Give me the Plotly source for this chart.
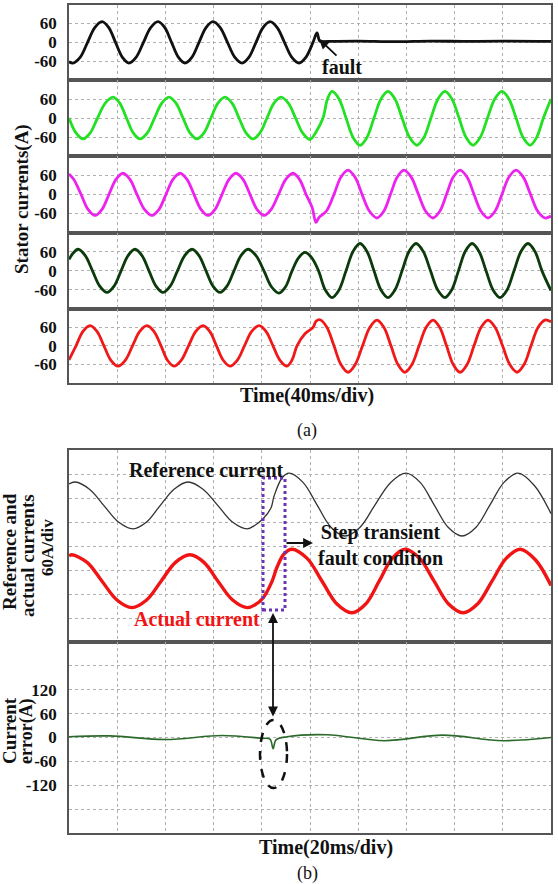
import plotly.graph_objects as go

W, H = 558, 884

# ---------------- (a) Stator currents: (time ms @40 ms/div, current A)
phase_A = [(0, -62), (3.3, -66), (9.4, -47), (15.4, 0), (21.4, 47), (27.4, 66), (33.0, 47), (38.6, 0),
           (44.2, -47), (49.8, -66), (55.8, -47), (61.8, 0), (67.8, 47), (73.9, 66), (79.5, 47), (85.1, 0),
           (90.7, -47), (96.3, -66), (102.1, -47), (107.9, 0), (113.7, 47), (119.5, 66), (125.5, 47),
           (131.5, 0), (137.5, -47), (143.6, -66), (149.4, -47), (155.2, 0), (161.0, 47), (166.8, 66),
           (172.8, 47), (178.8, 0), (184.8, -47), (190.9, -66), (196.7, -47), (202.5, 0), (205.8, 30),
           (208.3, 3), (215, 3), (240, 4), (270, 2), (300, 4), (330, 3), (360, 4), (400, 3)]

phase_B = [(0, 0), (5.8, -47), (11.6, -66), (17.6, -47), (23.7, 0), (30.1, 47), (36.5, 66), (42.1, 47),
           (47.7, 0), (53.3, -47), (58.9, -66), (65.0, -47), (71.0, 0), (77.0, 47), (83.0, 66), (88.8, 47),
           (94.6, 0), (100.4, -47), (106.2, -66), (112.0, -47), (117.8, 0), (123.6, 47), (129.5, 66),
           (135.3, 47), (141.1, 0), (146.9, -47), (152.7, -66), (158.5, -47), (164.3, 0), (170.1, 47),
           (175.9, 66), (182.0, 47), (188.0, 0), (194.0, -48), (200.0, -68), (205.0, -44), (210.8, 0),
           (214.5, 60), (218.3, 84), (224.1, 60), (229.9, 0), (235.7, -61), (241.5, -86), (247.3, -61),
           (253.1, 0), (258.9, 60), (264.7, 84), (270.5, 60), (276.4, 0), (282.6, -61), (288.8, -86),
           (294.6, -61), (300.4, 0), (306.2, 60), (312.0, 84), (317.8, 60), (323.7, 0), (329.5, -61),
           (335.3, -86), (341.3, -61), (347.3, 0), (353.3, 60), (359.3, 84), (365.1, 60), (371.0, 0),
           (376.8, -61), (382.6, -86), (388.1, -61), (393.7, 0), (400, 60)]

phase_C = [(0, 64), (3.9, 47), (10.0, 0), (15.8, -47), (21.6, -66), (27.4, -47), (33.2, 0), (39.0, 47),
           (44.8, 66), (50.6, 47), (56.4, 0), (62.6, -47), (68.9, -66), (74.7, -47), (80.5, 0), (86.3, 47),
           (92.1, 66), (97.9, 47), (103.7, 0), (109.5, -47), (115.4, -66), (121.2, -47), (127.0, 0),
           (132.8, 47), (138.6, 66), (144.4, 47), (150.2, 0), (156.0, -47), (161.8, -66), (167.8, -47),
           (173.9, 0), (179.9, 47), (185.9, 66), (191.3, 47), (196.7, 0), (201.7, -40), (205.0, -88),
           (207.5, -72), (213.7, -52), (219.9, 0), (225.7, 54), (231.5, 76), (237.3, 54), (243.2, 0),
           (249.4, -53), (255.6, -74), (261.2, -53), (266.8, 0), (272.4, 54), (278.0, 76), (284.0, 54),
           (290.0, 0), (296.0, -53), (302.1, -74), (307.7, -53), (313.3, 0), (318.9, 54), (324.5, 76),
           (330.3, 54), (336.1, 0), (341.9, -53), (347.7, -74), (353.5, -53), (359.3, 0), (365.1, 54),
           (371.0, 76), (377.0, 54), (383.0, 0), (389.0, -53), (395.0, -74), (400, -68)]

phase_D = [(0, 36), (3.5, 56), (7.5, 68), (13.5, 48), (19.5, 0), (25.5, -48), (31.5, -68), (37.4, -48),
           (43.2, 0), (49.0, 48), (54.8, 68), (60.6, 48), (66.4, 0), (72.2, -48), (78.0, -68), (84.0, -48),
           (90.0, 0), (96.0, 48), (102.1, 68), (107.9, 48), (113.7, 0), (119.5, -48), (125.3, -68),
           (131.1, -48), (136.9, 0), (142.7, 48), (148.6, 68), (155.2, 48), (161.8, 0), (168.0, -50),
           (174.3, -70), (179.7, -50), (185.1, 0), (190.5, 41), (195.9, 58), (201.5, 41), (207.1, 0),
           (212.7, -60), (218.3, -84), (224.1, -60), (229.9, 0), (235.7, 61), (241.5, 86), (247.3, 61),
           (253.1, 0), (258.9, -60), (264.7, -84), (270.5, -60), (276.4, 0), (282.2, 61), (288.0, 86),
           (294.0, 61), (300.0, 0), (306.0, -60), (312.0, -84), (317.6, -60), (323.2, 0), (328.8, 61),
           (334.5, 86), (340.3, 61), (346.1, 0), (351.9, -60), (357.7, -84), (363.5, -60), (369.3, 0),
           (375.1, 61), (380.9, 86), (386.7, 61), (392.5, 0), (400, -62)]

phase_E = [(0, -46), (5.8, 0), (11.6, 47), (17.4, 66), (23.2, 47), (29.0, 0), (34.8, -47), (40.7, -66),
           (46.7, -47), (52.7, 0), (58.7, 47), (64.7, 66), (70.5, 47), (76.4, 0), (81.7, -47), (87.1, -66),
           (93.1, -47), (99.2, 0), (105.2, 47), (111.2, 66), (116.8, 47), (122.4, 0), (128.0, -47),
           (133.6, -66), (139.6, -47), (145.6, 0), (151.6, 47), (157.7, 66), (163.5, 47), (169.3, 0),
           (175.1, -47), (180.9, -66), (185.0, -47), (189.2, 0), (196.0, 40), (202.5, 60), (205.0, 80),
           (208.3, 85), (214.1, 60), (219.9, 0), (225.7, -61), (231.5, -86), (237.5, -61), (243.6, 0),
           (249.6, 60), (255.6, 84), (261.4, 60), (267.2, 0), (273.0, -61), (278.8, -86), (284.6, -61),
           (290.5, 0), (296.3, 60), (302.1, 84), (307.7, 60), (313.3, 0), (318.9, -61), (324.5, -86),
           (330.3, -61), (336.1, 0), (341.9, 60), (347.7, 84), (353.7, 60), (359.8, 0), (365.8, -61),
           (371.8, -86), (377.6, -61), (383.4, 0), (389.2, 60), (395.0, 84), (400, 78)]

a_ticks = [-60, 0, 60]
a_ticktext = ["-60", "0", "60"]

# ---------------- (b) (time ms @20 ms/div, displayed level in A @60 A/div)
reference_current = [(0, 155), (2.5, 160), (8.5, 142), (14.5, 101), (20.5, 60), (26.6, 43), (32.2, 60),
                     (37.8, 101), (43.6, 142), (49.4, 160), (55.6, 142), (61.8, 101), (67.8, 60), (73.9, 43),
                     (77.2, 52), (80.5, 68), (83.8, 95), (85.1, 125), (88.4, 170), (91.3, 182), (97.1, 159),
                     (102.9, 103), (108.7, 47), (114.5, 25), (120.8, 47), (127.0, 103), (133.5, 159),
                     (139.9, 182), (145.7, 159), (151.5, 103), (157.3, 47), (163.1, 25), (168.9, 47),
                     (174.7, 103), (180.5, 159), (186.3, 182), (193.0, 152), (200, 81)]

actual_current = [(0, -25), (1.2, -22), (7.5, -41), (13.7, -88), (19.9, -135), (26.1, -154), (32.2, -135),
                  (38.2, -88), (44.2, -41), (50.2, -22), (56.0, -41), (61.8, -88), (67.9, -135), (73.9, -154),
                  (77.2, -147), (80.5, -130), (84.2, -89), (86.3, -53), (89.2, -20), (92.5, -8), (98.8, -31),
                  (105.0, -88), (111.2, -145), (117.4, -167), (123.1, -145), (128.7, -88), (134.1, -31),
                  (139.4, -8), (145.5, -31), (151.5, -88), (157.5, -145), (163.5, -167), (169.5, -145),
                  (175.5, -88), (181.4, -31), (187.2, -8), (193.6, -35), (200, -99)]

current_error = [(0, 2), (17, 4), (40, -5), (63.5, 5), (80, -2), (83.4, -4), (84.7, -28), (85.9, -6),
                 (90.5, 2), (107, 7), (131, -8), (155, 6), (180, -8), (200, 0)]

b_grid = [-180, -120, -60, 0, 60, 120, 180]
b_ticktext = ["", "-120", "-60", "0", "60", "120", ""]

# ---------------- helpers (layout positions in pixels -> paper)
def px(x):
    return x / W

def py(y):
    return 1 - y / H

def cols(pairs):
    return [p[0] for p in pairs], [p[1] for p in pairs]

FONT = "Liberation Serif"
GRID = "#b0b0b0"
BORDER = "#555555"

fig = go.Figure()

a_bounds = [4.7, 80, 156, 232.7, 309, 382.7]
a_series = [(phase_A, "#111111"), (phase_B, "#22e022"), (phase_C, "#ee22ee"),
            (phase_D, "#0b3a0b"), (phase_E, "#f01818")]

xdom = [px(69), px(551)]

for k, (data, c) in enumerate(a_series):
    t, v = cols(data)
    yname = "y" if k == 0 else f"y{k+1}"
    fig.add_trace(go.Scatter(x=t, y=v, mode="lines", xaxis="x", yaxis=yname,
                             line=dict(color=c, width=2.8, shape="spline", smoothing=1.0),
                             showlegend=False, hoverinfo="skip"))
    key = "yaxis" if k == 0 else f"yaxis{k+1}"
    fig.update_layout(**{key: dict(
        domain=[py(a_bounds[k+1]), py(a_bounds[k])], range=[-120, 120], anchor="x",
        tickvals=a_ticks, ticktext=a_ticktext, ticks="", ticklabelstandoff=7,
        tickfont=dict(family=FONT, size=17, color="#111", weight="bold"),
        showgrid=True, gridcolor=GRID, griddash="dot", gridwidth=1, zeroline=False,
        showline=True, mirror=True, linecolor=BORDER, linewidth=1.6, fixedrange=True)})

fig.update_layout(xaxis=dict(domain=xdom, range=[0, 400], anchor="y5",
                             tickvals=[40 * i for i in range(1, 10)], showticklabels=False, ticks="",
                             showgrid=True, gridcolor=GRID, griddash="dot", gridwidth=1, zeroline=False,
                             showline=True, mirror="all", linecolor=BORDER, linewidth=1.6))

# (b)
t, v = cols(reference_current)
fig.add_trace(go.Scatter(x=t, y=v, mode="lines", xaxis="x2", yaxis="y6",
                         line=dict(color="#333333", width=1.3, shape="spline", smoothing=1.0),
                         showlegend=False, hoverinfo="skip"))
t, v = cols(actual_current)
fig.add_trace(go.Scatter(x=t, y=v, mode="lines", xaxis="x2", yaxis="y6",
                         line=dict(color="#f01414", width=3.4, shape="spline", smoothing=1.0),
                         showlegend=False, hoverinfo="skip"))
t, v = cols(current_error)
fig.add_trace(go.Scatter(x=t, y=v, mode="lines", xaxis="x2", yaxis="y7",
                         line=dict(color="#2b6a2b", width=1.6, shape="spline", smoothing=1.0),
                         showlegend=False, hoverinfo="skip"))

fig.update_layout(
    xaxis2=dict(domain=xdom, range=[0, 200], anchor="y7",
                tickvals=[20 * i for i in range(1, 10)], showticklabels=False, ticks="",
                showgrid=True, gridcolor=GRID, griddash="dot", gridwidth=1, zeroline=False,
                showline=True, mirror="all", linecolor=BORDER, linewidth=1.6),
    yaxis6=dict(domain=[py(642), py(450)], range=[-240, 240], anchor="x2",
                tickvals=b_grid, showticklabels=False, ticks="",
                showgrid=True, gridcolor=GRID, griddash="dot", gridwidth=1, zeroline=False,
                showline=True, mirror=True, linecolor=BORDER, linewidth=1.6),
    yaxis7=dict(domain=[py(833), py(642)], range=[-240, 240], anchor="x2",
                tickvals=b_grid, ticktext=b_ticktext, ticks="", ticklabelstandoff=7,
                tickfont=dict(family=FONT, size=17, color="#111", weight="bold"),
                showgrid=True, gridcolor=GRID, griddash="dot", gridwidth=1, zeroline=False,
                showline=True, mirror=True, linecolor=BORDER, linewidth=1.6),
)

def txt(x, y, s, size=20, bold=True, color="#111", angle=0, align="center"):
    fig.add_annotation(x=px(x), y=py(y), xref="paper", yref="paper", text=s, showarrow=False,
                       textangle=angle, xanchor="center", yanchor="middle", align=align,
                       font=dict(family=FONT, size=size, color=color, weight="bold" if bold else "normal"))

txt(22, 199, "Stator currents(A)", 19, angle=-90)
txt(307, 396, "Time(40ms/div)", 20)
txt(307, 430, "(a)", 18, bold=False)
txt(342, 67, "fault", 20)

txt(9, 552, "Reference and", 19, angle=-90)
txt(27, 556, "actual currents", 19, angle=-90)
txt(47, 548, "60A/div", 17, angle=-90)
txt(9, 731, "Current", 19, angle=-90)
txt(26, 731, "error(A)", 18, angle=-90)
txt(326, 847, "Time(20ms/div)", 20)
txt(307, 873, "(b)", 18, bold=False)
txt(206, 470, "Reference current", 20)
txt(197, 619, "Actual current", 20, color="#f01414")
txt(380, 545, "Step transient<br>fault condition", 20)

def arrow(hx, hy, tx, ty, side="end"):
    fig.add_annotation(x=px(hx), y=py(hy), xref="paper", yref="paper", text="",
                       showarrow=True, ax=tx - hx, ay=ty - hy, axref="pixel", ayref="pixel",
                       arrowhead=2, arrowsize=1.1, arrowwidth=1.8, arrowcolor="#111",
                       arrowside=side, standoff=0, startstandoff=0)

arrow(319, 39, 338, 57)
arrow(313, 543, 285, 543)
arrow(273, 613, 273, 718, side="end+start")

fig.add_shape(type="rect", xref="paper", yref="paper", x0=px(263), x1=px(285), y0=py(610), y1=py(478),
              line=dict(color="#6a35b5", width=3, dash="dot"))
fig.add_shape(type="circle", xref="paper", yref="paper", x0=px(260), x1=px(287), y0=py(788), y1=py(720),
              line=dict(color="#111", width=2.5, dash="dash"))

fig.update_layout(width=W, height=H, margin=dict(l=0, r=0, t=0, b=0),
                  paper_bgcolor="white", plot_bgcolor="white", showlegend=False)

fig.write_html("out.html")
